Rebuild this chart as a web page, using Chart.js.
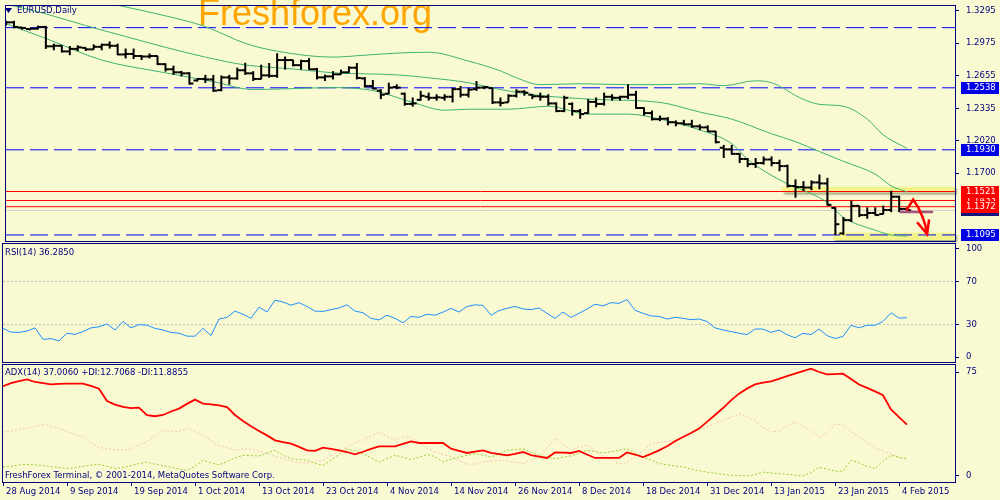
<!DOCTYPE html>
<html>
<head>
<meta charset="utf-8">
<script src="https://cdn.jsdelivr.net/npm/chart.js@4.4.1/dist/chart.umd.min.js"></script>
<style>
  html, body { margin: 0; padding: 0; background: #FAFAD2; }
  #wrap { position: relative; width: 1000px; height: 500px; overflow: hidden; }
  canvas { position: absolute; left: 0; top: 0; }
</style>
</head>
<body>
<div id="wrap">
  <canvas id="priceChart" width="1000" height="500"></canvas>
  <canvas id="rsiChart" width="1000" height="500"></canvas>
  <canvas id="adxChart" width="1000" height="500"></canvas>
</div>
<script>
var NAVY = "#000080";
var FONT = '"DejaVu Sans", sans-serif';

// ---- data ----
var dateIdx = [0, 8, 16, 24, 32, 40, 48, 56, 64, 72, 80, 88, 96, 104, 112];
var dateLabels = ["28 Aug 2014", "9 Sep 2014", "19 Sep 2014", "1 Oct 2014", "13 Oct 2014",
  "23 Oct 2014", "4 Nov 2014", "14 Nov 2014", "26 Nov 2014", "8 Dec 2014",
  "18 Dec 2014", "31 Dec 2014", "13 Jan 2015", "23 Jan 2015", "4 Feb 2015"];
var priceTicks = [1.3295, 1.2975, 1.2655, 1.2335, 1.2020, 1.1700];

var opens = [
  1.3190,1.3180,1.3130,1.3115,1.3118,1.3135,1.2945,1.2950,1.2895,1.2920,
  1.2930,1.2915,1.2940,1.2960,1.2950,1.2865,1.2870,1.2850,1.2845,1.2850,
  1.2770,1.2720,1.2690,1.2680,1.2610,1.2625,1.2620,1.2515,1.2640,1.2630,
  1.2710,1.2680,1.2625,1.2660,1.2655,1.2810,1.2810,1.2760,1.2800,1.2720,
  1.2640,1.2650,1.2670,1.2690,1.2735,1.2630,1.2555,1.2510,1.2480,1.2545,
  1.2480,1.2380,1.2420,1.2450,1.2440,1.2440,1.2450,1.2525,1.2470,1.2525,
  1.2540,1.2535,1.2395,1.2395,1.2460,1.2500,1.2470,1.2455,1.2450,1.2385,
  1.2310,1.2380,1.2310,1.2290,1.2400,1.2380,1.2450,1.2440,1.2450,1.2470,
  1.2340,1.2290,1.2230,1.2235,1.2200,1.2190,1.2180,1.2160,1.2150,1.2110,
  1.1950,1.1935,1.1890,1.1840,1.1790,1.1800,1.1835,1.1800,1.1770,1.1575,
  1.1565,1.1560,1.1610,1.1600,1.1360,1.1110,1.1240,1.1380,1.1290,1.1310,
  1.1300,1.1340,1.1470,1.1350];
var highs = [
  1.3195,1.3195,1.3131,1.3122,1.3148,1.3145,1.2971,1.2955,1.2948,1.2955,
  1.2933,1.2964,1.2971,1.2993,1.2971,1.2923,1.2923,1.2858,1.2875,1.2852,
  1.2778,1.2755,1.2704,1.2691,1.2633,1.2665,1.2665,1.2659,1.2665,1.2736,
  1.2784,1.2701,1.2765,1.2781,1.2877,1.2845,1.2813,1.2813,1.2829,1.2733,
  1.2668,1.2701,1.2717,1.2749,1.2781,1.2643,1.2615,1.2524,1.2588,1.2572,
  1.2491,1.2443,1.2508,1.2491,1.2475,1.2475,1.2540,1.2556,1.2540,1.2604,
  1.2556,1.2540,1.2443,1.2475,1.2524,1.2515,1.2475,1.2491,1.2475,1.2395,
  1.2460,1.2395,1.2331,1.2427,1.2443,1.2491,1.2475,1.2460,1.2572,1.2508,
  1.2347,1.2315,1.2266,1.2250,1.2218,1.2224,1.2224,1.2180,1.2170,1.2116,
  1.1978,1.1978,1.1897,1.1850,1.1850,1.1865,1.1865,1.1833,1.1785,1.1640,
  1.1623,1.1630,1.1688,1.1655,1.1366,1.1270,1.1431,1.1383,1.1366,1.1366,
  1.1383,1.1528,1.1479,1.1366];
var lows = [
  1.3150,1.3122,1.3108,1.3100,1.3110,1.2920,1.2906,1.2884,1.2858,1.2897,
  1.2900,1.2913,1.2906,1.2923,1.2858,1.2826,1.2820,1.2810,1.2826,1.2762,
  1.2697,1.2665,1.2649,1.2569,1.2600,1.2585,1.2498,1.2504,1.2569,1.2617,
  1.2665,1.2605,1.2620,1.2636,1.2636,1.2716,1.2749,1.2716,1.2716,1.2620,
  1.2605,1.2620,1.2668,1.2685,1.2620,1.2540,1.2524,1.2427,1.2475,1.2524,
  1.2363,1.2353,1.2412,1.2412,1.2412,1.2412,1.2395,1.2443,1.2443,1.2508,
  1.2524,1.2379,1.2356,1.2395,1.2443,1.2460,1.2427,1.2412,1.2363,1.2299,
  1.2299,1.2266,1.2234,1.2282,1.2347,1.2363,1.2412,1.2412,1.2427,1.2331,
  1.2266,1.2218,1.2211,1.2170,1.2160,1.2170,1.2147,1.2122,1.2106,1.1993,
  1.1850,1.1882,1.1800,1.1760,1.1752,1.1785,1.1768,1.1720,1.1560,1.1460,
  1.1527,1.1534,1.1543,1.1383,1.1095,1.1095,1.1222,1.1270,1.1254,1.1286,
  1.1296,1.1318,1.1318,1.1325];
var closes = [
  1.3180,1.3135,1.3125,1.3118,1.3135,1.2945,1.2950,1.2895,1.2920,1.2935,
  1.2915,1.2940,1.2960,1.2950,1.2865,1.2870,1.2850,1.2845,1.2850,1.2770,
  1.2720,1.2690,1.2680,1.2580,1.2625,1.2620,1.2510,1.2640,1.2630,1.2710,
  1.2680,1.2625,1.2660,1.2655,1.2810,1.2810,1.2760,1.2800,1.2720,1.2640,
  1.2650,1.2670,1.2690,1.2735,1.2635,1.2555,1.2530,1.2470,1.2540,1.2540,
  1.2380,1.2385,1.2460,1.2440,1.2445,1.2450,1.2525,1.2470,1.2520,1.2540,
  1.2545,1.2395,1.2390,1.2460,1.2500,1.2490,1.2455,1.2450,1.2385,1.2310,
  1.2440,1.2310,1.2280,1.2400,1.2380,1.2450,1.2440,1.2450,1.2470,1.2340,
  1.2290,1.2230,1.2235,1.2200,1.2190,1.2180,1.2160,1.2150,1.2110,1.2005,
  1.1935,1.1890,1.1840,1.1790,1.1800,1.1835,1.1800,1.1770,1.1575,1.1565,
  1.1560,1.1610,1.1600,1.1390,1.1200,1.1240,1.1380,1.1290,1.1310,1.1290,
  1.1340,1.1470,1.1350,1.1337];

// bollinger bands, read at sample bars
var bbUpIdx = [10, 15, 20, 25, 30, 34, 41, 45, 49, 53, 58, 62, 64, 67, 72, 78, 82, 87, 90, 94, 96, 100, 102, 105, 108, 110, 113];
var bbUp = [1.3418, 1.3331, 1.3244, 1.3138, 1.2974, 1.2897, 1.2839, 1.2858, 1.2878, 1.2887, 1.2800, 1.2704, 1.2636, 1.2569, 1.2578, 1.2569, 1.2569, 1.2578, 1.2559, 1.2607, 1.2588, 1.2424, 1.2376, 1.2357, 1.2231, 1.2077, 1.1942];
var bbMidIdx = [0, 5, 10, 15, 20, 25, 30, 36, 41, 49, 53, 58, 62, 67, 74, 82, 87, 91, 96, 99, 102, 105, 109, 111, 113];
var bbMid = [1.3360, 1.3263, 1.3148, 1.3041, 1.2935, 1.2839, 1.2762, 1.2723, 1.2685, 1.2665, 1.2636, 1.2588, 1.2521, 1.2463, 1.2424, 1.2395, 1.2300, 1.2231, 1.2087, 1.2010, 1.1913, 1.1817, 1.1691, 1.1576, 1.1518];
var bbLowIdx = [0, 5, 12, 20, 26, 31, 36, 41, 46, 51, 55, 58, 63, 68, 73, 78, 82, 87, 91, 93, 98, 101, 103, 105, 109, 111, 113];
var bbLow = [1.3167, 1.3022, 1.2810, 1.2685, 1.2598, 1.2521, 1.2530, 1.2540, 1.2511, 1.2395, 1.2318, 1.2328, 1.2328, 1.2357, 1.2280, 1.2280, 1.2231, 1.2125, 1.1990, 1.1836, 1.1595, 1.1499, 1.1412, 1.1267, 1.1142, 1.1094, 1.1084];

// drawn objects
var dashLevels = [1.3128, 1.2538, 1.1930, 1.1095];
var redLevels = [1.1521, 1.1433, 1.1372];
var bidLevel = 1.1335;
var zoneFrom = [97.3, 103.75];
var zoneHi = [1.1566, 1.1118];
var zoneLo = [1.1511, 1.1045];
var markIdx = [112.1, 116.25];
var markPrice = [1.1320, 1.1320];
var arrowIdx = [112.9, 113.75, 114.4, 114.9, 115.25, 115.5];
var arrowPrice = [1.1335, 1.1441, 1.1363, 1.1277, 1.1199, 1.1103];
var headIdx = [114.25, 115.5, 115.75];
var headPrice = [1.1219, 1.1103, 1.1248];

// indicators
var rsi = [
  26.5,23,22.8,24,27,16.3,17,15,22,21,
  23.5,27,28,30.6,25,32.9,27,30,29.5,26.5,
  25,22.8,22,19.3,19.3,26.5,19.8,35.2,36.7,42.5,
  39.6,35.8,46.2,41.6,52.6,50.9,48,50.3,46.8,42.5,
  42.2,43.9,45.4,48.3,42.5,41,35.8,34.3,38.7,35.8,
  31.7,37.6,36.7,39.6,38.7,41.6,45,41.6,46.8,48.3,
  47.8,38.7,43,45,46.8,44.5,43.9,45.4,40.4,35.8,
  41.6,36.7,40.4,44.5,48.9,47.4,50.3,49.7,53.2,43.3,
  40.4,38.1,37.6,35.2,36.7,35.8,34.6,35.2,32.9,27,
  25,23.6,22,20.7,25.9,25.9,22.8,25,20.7,17.8,
  22,20.7,25.9,19.8,17.2,19,29.4,27,29.4,29.4,
  32.9,41,36.1,36.3];
var rsiLevels = [70, 30];

var adx = [
  64.7,67,68.5,69.7,67.8,67,66.1,66.4,66.6,66.6,
  66.6,65,63,54.1,51.5,49.8,49,49.3,43.8,43.1,
  44,46.5,48.6,52,55.1,52.2,51.6,51,49.7,44,
  39.7,35.8,32.5,29.3,25.7,24.5,23.4,21,18.5,18.1,
  20.5,19.5,18.5,17.3,15.6,17.5,19.5,21.4,21.4,21.4,
  23.2,25,23.8,23.8,23.8,23.8,19.7,18.2,16.6,17.5,
  18.5,16.6,15.8,14.9,16,17.3,15,14,13,17,
  16.8,16.6,18.1,15.5,13,13,13,13,17,15.5,
  13.7,16,18.5,21.5,25,28.1,31,34.2,39,44,
  49,54.5,59.4,63,66.1,67.3,68.3,70,72,73.8,
  75.6,77.4,75,73.3,73.5,73.8,70,66,63.5,61,
  58.2,48,42.5,37];
var plusDi = [
  6.5,7,8,8.4,8,7.5,6.8,6,5.5,6,
  7,7.8,8.4,7,5.5,6,7.5,9,10,8.5,
  7.5,6.3,5,4,7,11.3,9.5,8,10.5,13,
  14.9,14.7,14.4,16.5,18.5,15,12.5,12,11.3,9,
  7.7,11.5,15.5,19.7,18,16.1,13,10,12.5,14.9,
  13.5,11.8,13.5,15.5,14,10,12,13.6,15,16.1,
  15,13.6,16,18.5,19,19.7,17,14.9,13.5,12.5,
  13.5,14.5,16.5,18.5,17.5,16.6,17.5,18.5,19.7,16.5,
  13.6,11.5,9,8,7.3,6.6,5,3.8,2.8,2,
  1.2,0.5,0.3,0.1,1,2.8,2.2,1.7,1.2,0.6,
  0.1,2.5,6.4,5,3.5,3.5,11.3,9.5,7,5.5,
  11,14.9,13.5,12.7];
var minusDi = [
  31.7,32.5,33.5,34.5,36,37.2,36,34.5,32,30,
  28.3,24,20.5,19.5,19,18.7,19.5,22.5,24.7,29,
  33,32.3,31.7,34.5,32,29.3,25.5,22.1,20.5,18.7,
  19.5,19.5,18,16.3,14.3,12.5,10.8,9.8,9.3,10.5,
  11.5,14.5,17.5,21,24,25.9,29,31.7,28.5,25.9,
  28,28,24,20,17.5,15.5,14,11,8.5,8.5,
  10.2,10.8,11.3,10.8,10,9.1,11.5,13.9,20,27.1,
  23,19,20.5,22.1,18,14.5,11.5,8.5,10,13.5,
  18,23.4,24,25,26,28,30.5,33,35.5,37.7,
  40,42.5,45,42.5,40,35,31.7,32.5,36,39,
  36,33,28,31,37.5,36.5,32,28,24,20.5,
  18,16,13.5,11.9];

// ---- helpers ----
function pts(xs, ys) {
  return xs.map(function (x, i) { return { x: x, y: ys[i] }; });
}
function flat(v) {
  return [{ x: 0, y: v }, { x: 119, y: v }];
}
var barIdx = closes.map(function (c, i) { return i; });

function lineSet(data, color, width, dash) {
  return {
    type: "line", data: data, borderColor: color, borderWidth: width,
    borderDash: dash || [], pointRadius: 0, tension: 0, fill: false
  };
}

function xAxis(show) {
  return {
    type: "linear", min: 0, max: 119, display: show, offset: false,
    afterBuildTicks: function (s) { s.ticks = dateIdx.map(function (v) { return { value: v }; }); },
    afterFit: function (s) {
      if (show) s.height = 18;
      s.paddingLeft = 0; s.paddingRight = 0;
    },
    border: { display: false },
    grid: { offset: false, drawOnChartArea: false, drawTicks: true, tickLength: 4, color: NAVY },
    ticks: {
      align: "start", labelOffset: 3, maxRotation: 0, autoSkip: false, padding: 1,
      color: NAVY, font: { family: FONT, size: 8.5 },
      callback: function (v, k) { return dateLabels[k]; }
    }
  };
}

function yAxis(min, max, ticks, fmt) {
  return {
    position: "right", min: min, max: max,
    afterFit: function (s) { s.width = 45; s.paddingTop = 0; s.paddingBottom = 0; },
    afterBuildTicks: function (s) { s.ticks = ticks.map(function (v) { return { value: v }; }); },
    border: { display: true, color: NAVY, width: 1 },
    grid: { drawOnChartArea: false, tickLength: 4, color: NAVY },
    ticks: { padding: 7, color: NAVY, font: { family: FONT, size: 8.5 }, callback: fmt }
  };
}

var panelFrame = {
  id: "panelFrame",
  afterDraw: function (chart, args, opts) {
    var a = chart.chartArea, ctx = chart.ctx;
    ctx.save();
    ctx.strokeStyle = NAVY;
    ctx.lineWidth = 1;
    ctx.strokeRect(a.left - 0.5, a.top - 0.5, a.right - a.left + 1, a.bottom - a.top + 1);
    ctx.fillStyle = NAVY;
    ctx.font = "8.5px " + FONT;
    ctx.textBaseline = "middle";
    (opts.texts || []).forEach(function (t) { ctx.fillText(t.text, t.x, t.y); });
    ctx.restore();
  }
};

function baseOptions(pad, showX, yOpts, texts) {
  return {
    responsive: false, animation: false, devicePixelRatio: 1,
    layout: { padding: pad },
    plugins: { legend: { display: false }, tooltip: { enabled: false }, panelFrame: { texts: texts } },
    scales: { x: xAxis(showX), y: yOpts }
  };
}

// ---- price panel ----
var priceExtras = {
  id: "priceExtras",
  beforeDatasetsDraw: function (chart) {
    var ctx = chart.ctx, a = chart.chartArea, x = chart.scales.x, y = chart.scales.y;
    ctx.save();
    ctx.font = '36px "Liberation Sans", Arial, sans-serif';
    ctx.fillStyle = "#FFA500";
    ctx.textBaseline = "alphabetic";
    ctx.fillText("Freshforex.org", 198, 25);
    for (var i = 0; i < zoneFrom.length; i++) {
      var x0 = x.getPixelForValue(zoneFrom[i]);
      var y0 = y.getPixelForValue(zoneHi[i]);
      var y1 = y.getPixelForValue(zoneLo[i]);
      ctx.shadowColor = "rgba(60,60,60,0.45)";
      ctx.shadowOffsetX = 2;
      ctx.shadowOffsetY = 2;
      ctx.shadowBlur = 2;
      ctx.fillStyle = "#F4F48A";
      ctx.fillRect(x0, y0, a.right - x0, y1 - y0);
    }
    ctx.restore();
  },
  afterDraw: function (chart) {
    var ctx = chart.ctx, y = chart.scales.y;
    ctx.save();
    // symbol title
    ctx.fillStyle = NAVY;
    ctx.beginPath();
    ctx.moveTo(5, 8); ctx.lineTo(12, 8); ctx.lineTo(8.5, 13); ctx.closePath();
    ctx.fill();
    ctx.font = "8.5px " + FONT;
    ctx.textBaseline = "middle";
    ctx.fillText("EURUSD,Daily", 17, 11);
    // price labels of the drawn lines
    var boxes = [{ v: bidLevel, c: "#14147A" }];
    boxes.push({ v: redLevels[1], c: "#FF0000" });
    boxes.push({ v: redLevels[0], c: "#FF0000" });
    boxes.push({ v: redLevels[2], c: "#FF0000" });
    for (var i = 1; i < dashLevels.length; i++) boxes.push({ v: dashLevels[i], c: "#0000E6" });
    boxes.forEach(function (b) {
      var yy = Math.round(y.getPixelForValue(b.v));
      ctx.fillStyle = b.c;
      ctx.fillRect(961, yy - 6, 38, 12);
      ctx.fillStyle = "#FFFFFF";
      ctx.fillText(b.v.toFixed(4), 966, yy);
    });
    ctx.restore();
  }
};

var priceSets = [
  lineSet(pts(arrowIdx, arrowPrice), "#FF0000", 2.5),
  lineSet(pts(headIdx, headPrice), "#FF0000", 2.5),
  lineSet(pts(markIdx, markPrice), "#A8557A", 2.5),
  {
    type: "scatter", data: pts(barIdx.map(function (i) { return i - 0.25; }), opens),
    pointStyle: "line", radius: 2, borderColor: "#000", borderWidth: 2
  },
  {
    type: "scatter", data: pts(barIdx.map(function (i) { return i + 0.25; }), closes),
    pointStyle: "line", radius: 2, borderColor: "#000", borderWidth: 2
  },
  {
    type: "bar", data: barIdx.map(function (i) { return { x: i, y: [lows[i], highs[i]] }; }),
    backgroundColor: "#000", barThickness: 2, inflateAmount: 0, borderWidth: 0
  }
];
[pts(bbUpIdx, bbUp), pts(bbMidIdx, bbMid), pts(bbLowIdx, bbLow)].forEach(function (d) {
  var s = lineSet(d, "#3CB371", 1);
  s.cubicInterpolationMode = "monotone";
  priceSets.push(s);
});
redLevels.forEach(function (v) { priceSets.push(lineSet(flat(v), "#FF0000", 1)); });
priceSets.push(lineSet(flat(bidLevel), "#CFCFCF", 1));
dashLevels.forEach(function (v) { priceSets.push(lineSet(flat(v), "#0000FF", 1, [18, 6])); });

new Chart(document.getElementById("priceChart"), {
  type: "line",
  data: { datasets: priceSets },
  options: baseOptions({ left: 3, top: 2, right: 0, bottom: 259 }, false,
    yAxis(1.10356, 1.33403, priceTicks, function (v) { return v.toFixed(4); }), []),
  plugins: [priceExtras, panelFrame]
});

// ---- RSI panel ----
var rsiSets = [lineSet(pts(barIdx, rsi), "#1E90FF", 1)];
rsiLevels.forEach(function (v) { rsiSets.push(lineSet(flat(v), "#BDBDBD", 1, [2, 2])); });

new Chart(document.getElementById("rsiChart"), {
  type: "line",
  data: { datasets: rsiSets },
  options: baseOptions({ left: 3, top: 244, right: 0, bottom: 138 }, false,
    yAxis(-4.6, 104.6, [0, 30, 70, 100], function (v) { return String(v); }),
    [{ text: "RSI(14) 36.2850", x: 5, y: 253 }]),
  plugins: [panelFrame]
});

// ---- ADX panel ----
var adxSets = [
  lineSet(pts(barIdx, adx), "#FF0000", 1.8),
  lineSet(pts(barIdx, plusDi), "#9ACD32", 1, [2, 2]),
  lineSet(pts(barIdx, minusDi), "#F6C4B2", 1, [2, 2])
];

new Chart(document.getElementById("adxChart"), {
  type: "line",
  data: { datasets: adxSets },
  options: baseOptions({ left: 3, top: 365, right: 0, bottom: 0 }, true,
    yAxis(-4.33, 80.05, [0, 75], function (v) { return String(v); }),
    [{ text: "ADX(14) 37.0060 +DI:12.7068 -DI:11.8855", x: 5, y: 373 },
     { text: "FreshForex Terminal, \u00A9 2001-2014, MetaQuotes Software Corp.", x: 5, y: 476 }]),
  plugins: [panelFrame]
});
</script>
</body>
</html>
